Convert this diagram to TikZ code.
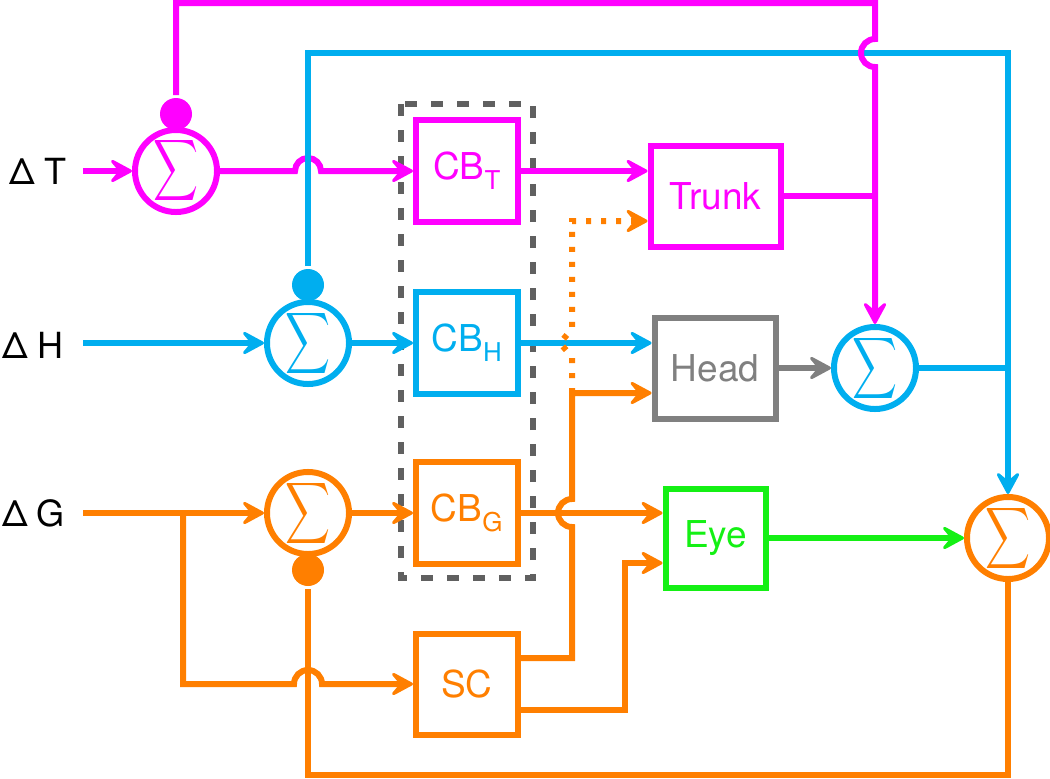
\documentclass[tikz,border=0pt]{standalone}
\usepackage{graphicx}
\usepackage{fontspec}
\setmainfont{TeX Gyre Heros}
\usetikzlibrary{arrows.meta}
\definecolor{mag}{RGB}{255,0,255}
\definecolor{sky}{RGB}{0,174,239}
\definecolor{org}{RGB}{255,127,0}
\definecolor{grn}{RGB}{20,240,20}
\definecolor{gry}{RGB}{128,128,128}
\definecolor{dgry}{RGB}{96,96,96}
\newcommand{\bigsig}{\resizebox{45pt}{45pt}{$\displaystyle\sum$}}
\begin{document}
\begin{tikzpicture}[x=1pt,y=-1pt, line width=6pt,
  box/.style={draw, rectangle, inner sep=0pt, font=\fontsize{37}{37}\selectfont},
  sumnode/.style={draw, circle, minimum size=71pt, inner sep=0pt},
  dotnode/.style={circle, fill, minimum size=32pt, inner sep=0pt},
  arr/.style={-{Stealth[length=27pt,width=29pt,inset=12pt,round,line width=3pt]}},
  dotline/.style={dash pattern=on 5pt off 10pt},
  lab/.style={anchor=east, inner sep=0pt, font=\fontsize{36}{36}\selectfont}
]
\useasboundingbox (0,0) rectangle (1050,779);

% dashed frame
\draw[dgry, dash pattern=on 12pt off 14pt] (401,104) rectangle (533,578);

% summing junctions and dots
\node[sumnode, mag] (sT) at (176,171) {\bigsig};
\node[dotnode, mag] (dT) at (176,114) {};
\node[sumnode, sky] (sH) at (308,343) {\bigsig};
\node[dotnode, sky] (dH) at (308,285) {};
\node[sumnode, org] (sG) at (308,513) {\bigsig};
\node[dotnode, org] (dG) at (308,570) {};
\node[sumnode, sky] (sHd) at (875,368) {\bigsig};
\node[sumnode, org] (sE) at (1008,538) {\bigsig};

% boxes
\node[box, mag, minimum width=102pt, minimum height=102pt] (cbT) at (467,171) {CB\textsubscript{T}};
\node[box, sky, minimum width=102pt, minimum height=102pt] (cbH) at (467,343) {CB\textsubscript{H}};
\node[box, org, minimum width=102pt, minimum height=102pt] (cbG) at (467,513) {CB\textsubscript{G}};
\node[box, org, minimum width=102pt, minimum height=101pt] (sc) at (467,684) {SC};
\node[box, mag, minimum width=130pt, minimum height=101pt] (trunk) at (715.5,196) {Trunk};
\node[box, gry, minimum width=121pt, minimum height=101pt] (head) at (715,368) {Head};
\node[box, grn, minimum width=100pt, minimum height=99pt] (eye) at (715.5,538) {Eye};

% labels
\node[lab] (lT) at (69,171) {Δ\kern9pt T};
\node[lab] (lH) at (66,345) {Δ\kern9pt H};
\node[lab] (lG) at (68,513) {Δ\kern9pt G};
\coordinate (iT) at (83,171);
\coordinate (iH) at (83,343);
\coordinate (iG) at (83,513);

% magenta
\draw[mag, arr] (iT) -- (sT.west);
\draw[mag, arr] (sT.east) -- (295,171) arc[start angle=180, end angle=0, radius=13pt] -- (cbT.west);
\draw[mag, arr] (cbT.east) -- (cbT.east -| trunk.west);
\draw[mag] (trunk.east) -- (trunk.east -| sHd.north);

% blue
\draw[sky, arr] (iH) -- (sH.west);
\draw[sky, arr] (sH.east) -- (cbH.west);
\draw[sky, arr] (cbH.east) -- (cbH.east -| head.west);
\draw[sky, arr] (dH.north) -- (308,53) -- (1008,53) -- (sE.north);
\draw[sky] (sHd.east) -- (sHd.east -| sE.north);
\draw[mag, arr] (dT.north) -- (176,3) -- (875,3) -- (875,39) arc[start angle=90, end angle=270, radius=14pt] -- (sHd.north);

% gray
\draw[gry, arr] (head.east) -- (sHd.west);

% orange
\draw[org, arr] (iG) -- (sG.west);
\draw[org, arr] (183,513) -- (183,684) -- (294,684) arc[start angle=180, end angle=0, radius=14pt] -- (sc.west);
\draw[org, arr] (sG.east) -- (cbG.west);
\draw[org, arr] (cbG.east) -- (cbG.east -| eye.west);
\draw[org, arr] ([yshift=26pt]sc.east) -- (572,658) -- (572,527) arc[start angle=270, end angle=90, radius=14pt] -- (572,393) -- ([yshift=-25pt]head.west);
\draw[org, arr] ([yshift=-26pt]sc.east) -- (625,710) -- (625,563) -- ([yshift=-25pt]eye.west);
\draw[org, arr, dotline] (572,393) -- (572,357) -- (560,343) -- (572,329) -- (572,221) -- ([yshift=-25pt]trunk.west);
\draw[org] (sE.south) -- (1008,775) -- (308,775) -- (dG.south);

% green
\draw[grn, arr] (eye.east) -- (sE.west);
\end{tikzpicture}
\end{document}
